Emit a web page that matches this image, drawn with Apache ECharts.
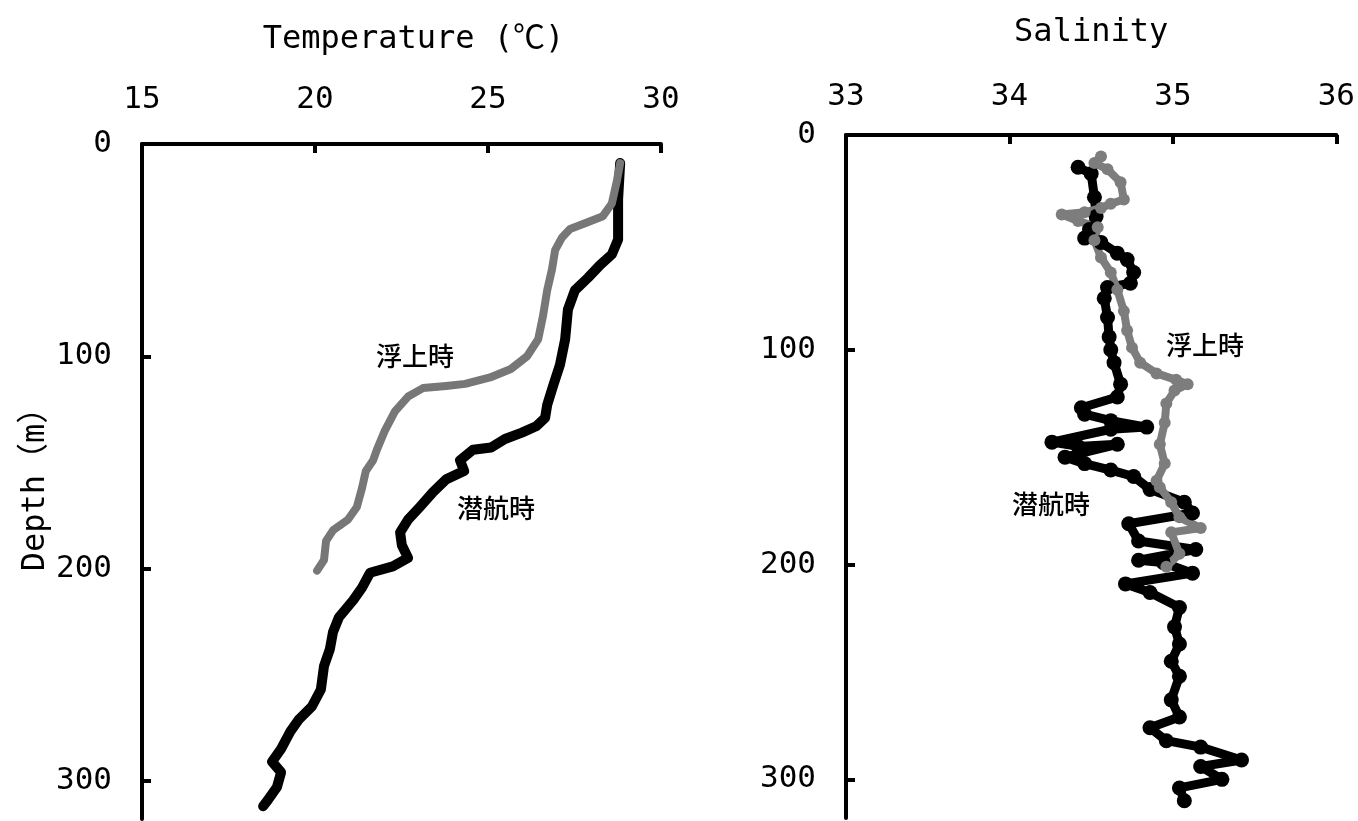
<!DOCTYPE html>
<html>
<head>
<meta charset="utf-8">
<script src="https://cdn.jsdelivr.net/npm/echarts@6/dist/echarts.min.js"></script>
<style>
  html, body { margin: 0; padding: 0; background: #fff; }
  #chart { width: 1358px; height: 821px; }
</style>
</head>
<body>
<div id="chart"></div>
<script>
// 水温 (潜航時)
const tempDiveDepth = [9, 26, 45, 52, 57, 63, 69, 78, 92, 104, 114, 123, 129, 133, 136, 139, 143, 144, 149, 154, 158, 164, 171, 177, 183, 189, 195, 199, 202, 209, 215, 223, 230, 238, 246, 257, 265, 271, 277, 285, 291, 296, 303, 309, 312];
const tempDiveValue = [28.82, 28.76, 28.76, 28.58, 28.24, 27.89, 27.51, 27.31, 27.23, 27.08, 26.88, 26.71, 26.65, 26.39, 25.98, 25.49, 25.09, 24.57, 24.19, 24.31, 23.79, 23.41, 23.03, 22.69, 22.46, 22.51, 22.69, 22.25, 21.59, 21.36, 21.10, 20.69, 20.52, 20.43, 20.26, 20.17, 19.91, 19.54, 19.28, 19.02, 18.76, 19.02, 18.90, 18.64, 18.50];
// 水温 (浮上時)
const tempSurfDepth = [9, 17, 28, 34, 37, 40, 44, 50, 59, 69, 81, 92, 100, 106, 110, 113, 114, 115, 119, 126, 135, 144, 149, 154, 162, 171, 177, 182, 187, 196, 201];
const tempSurfValue = [28.82, 28.73, 28.58, 28.32, 27.86, 27.37, 27.14, 26.94, 26.85, 26.71, 26.59, 26.45, 26.13, 25.66, 25.06, 24.34, 23.79, 23.12, 22.69, 22.31, 22.02, 21.79, 21.68, 21.47, 21.36, 21.21, 20.95, 20.52, 20.32, 20.26, 20.06];
// 塩分 (潜航時)
const salDiveDepth = [15, 18, 29, 38, 44, 48, 50, 55, 58, 64, 69, 71, 76, 85, 94, 100, 106, 116, 122, 127, 130, 133, 136, 137, 143, 145, 144, 150, 153, 156, 159, 165, 171, 176, 181, 189, 193, 198, 199, 204, 209, 213, 220, 229, 237, 245, 252, 263, 271, 276, 282, 285, 291, 294, 300, 304, 310];
const salDiveValue = [34.42, 34.50, 34.52, 34.53, 34.49, 34.46, 34.56, 34.66, 34.72, 34.76, 34.74, 34.60, 34.58, 34.60, 34.61, 34.62, 34.64, 34.68, 34.66, 34.44, 34.46, 34.62, 34.84, 34.62, 34.26, 34.42, 34.66, 34.34, 34.46, 34.62, 34.76, 34.86, 35.07, 35.12, 34.73, 34.79, 35.14, 34.79, 34.94, 35.12, 34.71, 34.86, 35.04, 35.01, 35.04, 34.99, 35.04, 34.99, 35.04, 34.86, 34.96, 35.17, 35.42, 35.17, 35.30, 35.04, 35.07];
// 塩分 (浮上時)
const salSurfDepth = [10, 13, 16, 22, 30, 32, 34, 36, 37, 40, 43, 49, 57, 64, 72, 82, 91, 99, 106, 111, 114, 116, 119, 125, 134, 144, 153, 161, 164, 171, 178, 183, 185, 195, 201];
const salSurfValue = [34.56, 34.52, 34.60, 34.68, 34.70, 34.62, 34.56, 34.46, 34.32, 34.42, 34.54, 34.52, 34.56, 34.62, 34.66, 34.70, 34.72, 34.75, 34.80, 34.90, 35.02, 35.09, 35.01, 34.96, 34.95, 34.92, 34.95, 34.90, 34.92, 34.99, 35.04, 35.17, 34.99, 35.04, 34.96];

const depthTicks = [0, 100, 200, 300];
const tempTicks = [15, 20, 25, 30];
const salTicks = [33, 34, 35, 36];

const zip = (vals, depths) => vals.map((v, i) => [v, depths[i]]);

const numFont = "'DejaVu Sans Mono', monospace";
const titleFont = "'DejaVu Sans Mono', 'Noto Sans CJK JP', monospace";
const jpFont = "'Noto Sans CJK JP', sans-serif";

const chart = echarts.init(document.getElementById('chart'));

function xAxisOf(idx, name, min, max, ticks, gap, margin, shift) {
    return {
        gridIndex: idx,
        type: 'value',
        position: 'top',
        min: min,
        max: max,
        interval: ticks[1] - ticks[0],
        name: name,
        nameLocation: 'middle',
        nameGap: gap,
        nameTextStyle: { fontFamily: titleFont, fontSize: 32, color: '#000', padding: [0, 0, 0, shift] },
        axisLine: { show: true, lineStyle: { color: '#000', width: 4 } },
        axisTick: { show: true, inside: true, length: 9, lineStyle: { color: '#000', width: 4 } },
        axisLabel: { margin: margin, fontFamily: numFont, fontSize: 31, color: '#000' },
        splitLine: { show: false }
    };
}

function yAxisOf(idx, name) {
    return {
        gridIndex: idx,
        type: 'value',
        inverse: true,
        min: 0,
        max: 318,
        interval: 100,
        name: name,
        nameLocation: 'middle',
        nameGap: 90,
        nameTextStyle: { fontFamily: titleFont, fontSize: 32, color: '#000' },
        axisLine: { show: true, lineStyle: { color: '#000', width: 4 } },
        axisTick: { show: true, inside: true, length: 9, customValues: depthTicks, lineStyle: { color: '#000', width: 4 } },
        axisLabel: { margin: 30, customValues: depthTicks, fontFamily: numFont, fontSize: 31, color: '#000' },
        splitLine: { show: false }
    };
}

const option = {
    backgroundColor: '#fff',
    animation: false,
    grid: [
        { left: 142, top: 144, width: 519, bottom: 2 },
        { left: 846, top: 135, width: 495, bottom: 3 }
    ],
    xAxis: [
        xAxisOf(0, 'Temperature (℃)', 15, 30, tempTicks, 88, 29, 24),
        xAxisOf(1, 'Salinity', 33, 36, salTicks, 86, 23, 0)
    ],
    yAxis: [
        yAxisOf(0, 'Depth（m）'),
        yAxisOf(1, '')
    ],
    series: [
        {
            name: '潜航時', type: 'line', xAxisIndex: 0, yAxisIndex: 0,
            data: zip(tempDiveValue, tempDiveDepth),
            showSymbol: false,
            lineStyle: { color: '#000', width: 10, join: 'round', cap: 'round' }
        },
        {
            name: '浮上時', type: 'line', xAxisIndex: 0, yAxisIndex: 0,
            data: zip(tempSurfValue, tempSurfDepth),
            showSymbol: false,
            lineStyle: { color: '#777', width: 8, join: 'round', cap: 'round' }
        },
        {
            name: '潜航時', type: 'line', xAxisIndex: 1, yAxisIndex: 1,
            data: zip(salDiveValue, salDiveDepth),
            symbol: 'circle', symbolSize: 15,
            itemStyle: { color: '#000' },
            lineStyle: { color: '#000', width: 9, join: 'round' }
        },
        {
            name: '浮上時', type: 'line', xAxisIndex: 1, yAxisIndex: 1,
            data: zip(salSurfValue, salSurfDepth),
            symbol: 'circle', symbolSize: 12,
            itemStyle: { color: '#7d7d7d' },
            lineStyle: { color: '#7d7d7d', width: 8, join: 'round' }
        }
    ],
    graphic: [
        { type: 'text', left: 376, top: 343, style: { text: '浮上時', font: '500 26px ' + jpFont, fill: '#000' } },
        { type: 'text', left: 457, top: 495, style: { text: '潜航時', font: '500 26px ' + jpFont, fill: '#000' } },
        { type: 'text', left: 1166, top: 332, style: { text: '浮上時', font: '500 26px ' + jpFont, fill: '#000' } },
        { type: 'text', left: 1012, top: 491, style: { text: '潜航時', font: '500 26px ' + jpFont, fill: '#000' } }
    ]
};

chart.setOption(option);
</script>
</body>
</html>
